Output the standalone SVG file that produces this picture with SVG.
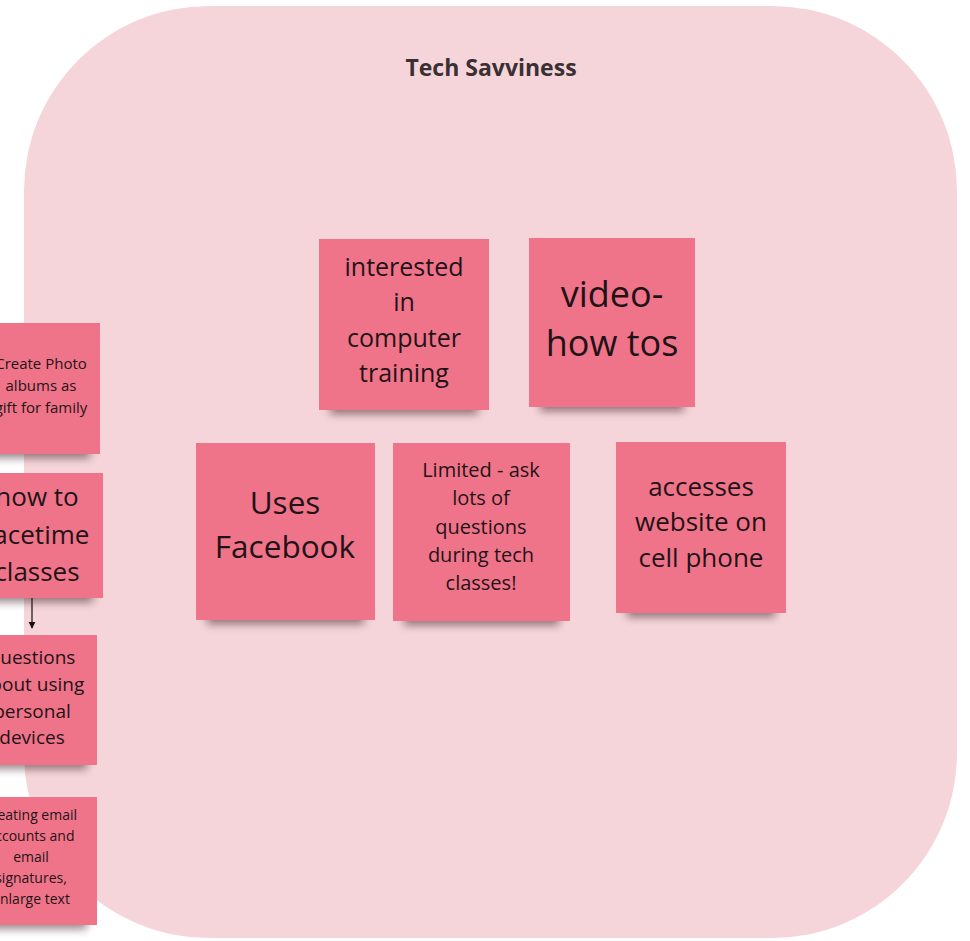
<svg xmlns="http://www.w3.org/2000/svg" width="970" height="941" viewBox="0 0 970 941">
<defs>
<filter id="blur" x="-20%" y="-100%" width="140%" height="300%"><feGaussianBlur stdDeviation="4"/></filter>
<marker id="arr" viewBox="0 0 10 10" refX="9" refY="5" markerWidth="6" markerHeight="6" orient="auto"><path d="M0,0 L10,5 L0,10 z" fill="#111"/></marker>
</defs>
<style>
.st{fill:#EF7489}
.sh{fill:#2a1015;opacity:0.5;filter:url(#blur)}
text{font-family:"Open Sans","DejaVu Sans",sans-serif;fill:#1f1317;text-anchor:middle}
.title{font-weight:bold;font-size:23px;fill:#3a3034}
</style>
<rect width="970" height="941" fill="#ffffff"/>
<g id="frame">
<rect x="24" y="6" width="933" height="932" rx="185" ry="185" fill="#F5D5D9"/>
<text class="title" x="491" y="76">Tech Savviness</text>
</g>
<g id="connectors">
<line x1="32" y1="598" x2="32" y2="628" stroke="#111" stroke-width="1.2" marker-end="url(#arr)"/>
</g>
<g id="n1">
<rect class="sh" x="330" y="400" width="148" height="14"/>
<rect class="st" x="319" y="239" width="170" height="171"/>
<text font-size="25" x="404"><tspan x="404" y="276">interested</tspan><tspan x="404" y="311">in</tspan><tspan x="404" y="347">computer</tspan><tspan x="404" y="382">training</tspan></text>
</g>
<g id="n2">
<rect class="sh" x="540" y="397" width="144" height="14"/>
<rect class="st" x="529" y="238" width="166" height="169"/>
<text font-size="36" x="612"><tspan x="612" y="307">video-</tspan><tspan x="612" y="356">how tos</tspan></text>
</g>
<g id="n3">
<rect class="sh" x="207" y="610" width="157" height="14"/>
<rect class="st" x="196" y="443" width="179" height="177"/>
<text font-size="31.5" x="285"><tspan x="285" y="514">Uses</tspan><tspan x="285" y="558">Facebook</tspan></text>
</g>
<g id="n4">
<rect class="sh" x="404" y="611" width="155" height="14"/>
<rect class="st" x="393" y="443" width="177" height="178"/>
<text font-size="20" x="481"><tspan x="481" y="477">Limited - ask</tspan><tspan x="481" y="505">lots of</tspan><tspan x="481" y="534">questions</tspan><tspan x="481" y="562">during tech</tspan><tspan x="481" y="590">classes!</tspan></text>
</g>
<g id="n5">
<rect class="sh" x="627" y="603" width="148" height="14"/>
<rect class="st" x="616" y="442" width="170" height="171"/>
<text font-size="26" x="701"><tspan x="701" y="496">accesses</tspan><tspan x="701" y="531">website on</tspan><tspan x="701" y="567">cell phone</tspan></text>
</g>
<g id="n6">
<rect class="sh" x="-60" y="444" width="150" height="14"/>
<rect class="st" x="-70" y="323" width="170" height="131"/>
<text font-size="15" x="41"><tspan x="41" y="369">Create Photo</tspan><tspan x="41" y="391">albums as</tspan><tspan x="41" y="413">gift for family</tspan></text>
</g>
<g id="n7">
<rect class="sh" x="-57" y="588" width="150" height="14"/>
<rect class="st" x="-67" y="473" width="170" height="125"/>
<text font-size="26" x="37"><tspan x="37" y="506">how to</tspan><tspan x="37" y="544">facetime</tspan><tspan x="37" y="581">classes</tspan></text>
</g>
<g id="n8">
<rect class="sh" x="-63" y="755" width="150" height="14"/>
<rect class="st" x="-73" y="635" width="170" height="130"/>
<text font-size="19" x="32"><tspan x="32" y="664">questions</tspan><tspan x="32" y="691">about using</tspan><tspan x="32" y="718">personal</tspan><tspan x="32" y="744">devices</tspan></text>
</g>
<g id="n9">
<rect class="sh" x="-63" y="915" width="150" height="14"/>
<rect class="st" x="-73" y="797" width="170" height="128"/>
<text font-size="14" x="31"><tspan x="31" y="820">creating email</tspan><tspan x="31" y="841">accounts and</tspan><tspan x="31" y="862">email</tspan><tspan x="31" y="883">signatures,</tspan><tspan x="31" y="904">enlarge text</tspan></text>
</g>
</svg>
